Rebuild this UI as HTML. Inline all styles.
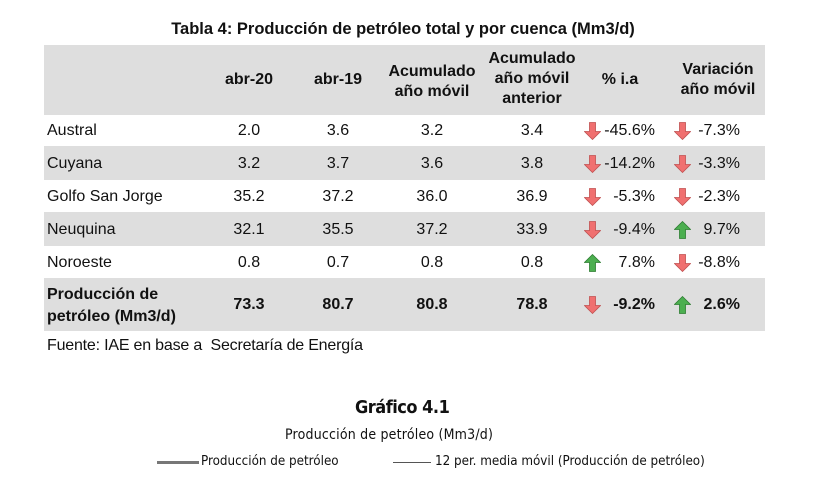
<!DOCTYPE html><html><head><meta charset="utf-8"><style>
body{margin:0;width:836px;height:480px;background:#fff;position:relative;overflow:hidden;font-family:"Liberation Sans",Arial,sans-serif;color:#111}
.a{position:absolute;white-space:nowrap}
.g{position:absolute;left:44px;width:721px;background:#dedede}
.c{position:absolute;text-align:center;font-size:16px}
.r{position:absolute;text-align:right;font-size:16px}
.b{font-weight:bold}
svg{position:absolute}
.cal{font-family:'DejaVu Sans Condensed','Liberation Sans',sans-serif}
</style></head><body>
<div class="a b" style="left:0;width:806px;text-align:center;top:20px;font-size:16.5px">Tabla 4: Producción de petróleo total y por cuenca (Mm3/d)</div>
<div class="g" style="top:45px;height:70px"></div>
<div class="g" style="top:146px;height:34px"></div>
<div class="g" style="top:212px;height:34px"></div>
<div class="g" style="top:278px;height:53px"></div>

<div class="c b" style="left:209px;width:80px;top:71px">abr-20</div>
<div class="c b" style="left:298px;width:80px;top:71px">abr-19</div>
<div class="c b" style="left:382px;width:100px;top:62px;line-height:20px">Acumulado<br>año móvil</div>
<div class="c b" style="left:477px;width:110px;top:49px;line-height:20px">Acumulado<br>año móvil<br>anterior</div>
<div class="c b" style="left:590px;width:60px;top:71px">% i.a</div>
<div class="c b" style="left:668px;width:100px;top:60px;line-height:20px">Variación<br>año móvil</div>

<div id="rows"></div>
<script>
var rows=[["Austral","2.0","3.6","3.2","3.4",0,"-45.6%",0,"-7.3%",122],
["Cuyana","3.2","3.7","3.6","3.8",0,"-14.2%",0,"-3.3%",155],
["Golfo San Jorge","35.2","37.2","36.0","36.9",0,"-5.3%",0,"-2.3%",188],
["Neuquina","32.1","35.5","37.2","33.9",0,"-9.4%",1,"9.7%",221],
["Noroeste","0.8","0.7","0.8","0.8",1,"7.8%",0,"-8.8%",254]];
function arrow(x,y,up){
 var col=up?'#4caf50':'#f07070',st=up?'#2e7d32':'#c05050';
 var p=up?'M8 0 L16 8 L11 8 L11 17 L5 17 L5 8 L0 8 Z':'M5 0 L11 0 L11 9 L16 9 L8 17 L0 9 L5 9 Z';
 return '<svg style="left:'+x+'px;top:'+y+'px" width="17" height="18"><path d="'+p+'" fill="'+col+'" stroke="'+st+'" stroke-width="0.8" transform="translate(0.5,0.5)"/></svg>';
}
var h='';
rows.forEach(function(r){var y=r[9];
h+='<div class="a" style="left:47px;top:'+y+'px;font-size:16px">'+r[0]+'</div>';
var cx=[249,338,432,532];
for(var i=0;i<4;i++)h+='<div class="c" style="left:'+(cx[i]-40)+'px;width:80px;top:'+y+'px">'+r[i+1]+'</div>';
h+=arrow(584,y,r[5])+'<div class="r" style="left:600px;width:55px;top:'+y+'px">'+r[6]+'</div>';
h+=arrow(674,y,r[7])+'<div class="r" style="left:690px;width:50px;top:'+y+'px">'+r[8]+'</div>';
});
h+='<div class="a b" style="left:47px;top:284px;font-size:16px;line-height:22px">Producción de<br>petróleo (Mm3/d)</div>';
var t=["73.3","80.7","80.8","78.8"],cx=[249,338,432,532];
for(var i=0;i<4;i++)h+='<div class="c b" style="left:'+(cx[i]-40)+'px;width:80px;top:296px">'+t[i]+'</div>';
h+=arrow(584,296,0)+'<div class="r b" style="left:600px;width:55px;top:296px">-9.2%</div>';
h+=arrow(674,296,1)+'<div class="r b" style="left:690px;width:50px;top:296px">2.6%</div>';
document.getElementById('rows').innerHTML=h;
</script>
<div class="a" style="left:47px;top:337px;font-size:16px;letter-spacing:-0.2px">Fuente: IAE en base a&nbsp; Secretaría de Energía</div>
<div class="a b cal" style="left:355px;top:397px;font-size:18px;letter-spacing:-0.5px">Gráfico 4.1</div>
<div class="a cal" style="left:285px;top:427px;font-size:14px;letter-spacing:0.2px">Producción de petróleo (Mm3/d)</div>
<div class="a" style="left:157px;top:461px;width:42px;height:3px;background:#777"></div>
<div class="a cal" style="left:201px;top:454px;font-size:13.3px">Producción de petróleo</div>
<div class="a" style="left:393px;top:462px;width:38px;height:1px;background:#555"></div>
<div class="a cal" style="left:435px;top:454px;font-size:13.3px">12 per. media móvil (Producción de petróleo)</div>
</body></html>
